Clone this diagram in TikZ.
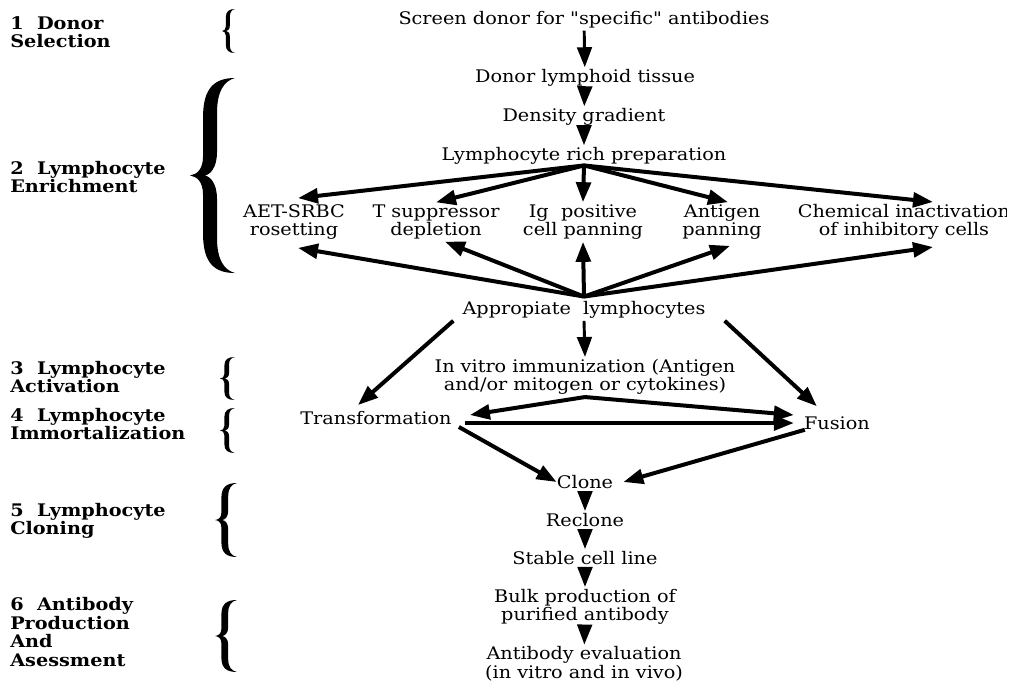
\documentclass[tikz,border=0pt]{standalone}
\usepackage{fontspec}
\setmainfont{DejaVu Serif}[FakeStretch=1.11]
\newfontfamily\plainq{DejaVu Serif}[FakeStretch=1.11]
\usetikzlibrary{arrows.meta}
\begin{document}
\begin{tikzpicture}[x=0.75pt,y=-0.75pt,
  every node/.style={inner sep=1.5pt},
  stage/.style={font=\fontsize{13}{13.9}\selectfont, align=center},
  sect/.style={font=\bfseries\fontsize{13}{13.9}\selectfont, align=left, anchor=west},
  flow/.style={line width=2.2pt, -{Triangle[length=15pt,width=11pt]}},
  fan/.style={line width=3pt, -{Triangle[length=15pt,width=11pt]}},
  % a curly brace filled in the unit box, tip at the left, top at y=0
  curly/.pic={
    \fill (1,0) .. controls (0.55,0.0) and (0.29,0.05) .. (0.29,0.2)
      -- (0.29,0.40)
      .. controls (0.29,0.47) and (0.15,0.495) .. (0,0.5)
      .. controls (0.15,0.505) and (0.29,0.53) .. (0.29,0.6)
      -- (0.29,0.8)
      .. controls (0.29,0.95) and (0.55,1.0) .. (1,1)
      .. controls (0.75,0.985) and (0.6,0.93) .. (0.6,0.82)
      -- (0.6,0.62)
      .. controls (0.6,0.54) and (0.45,0.505) .. (0.33,0.5)
      .. controls (0.45,0.495) and (0.6,0.46) .. (0.6,0.38)
      -- (0.6,0.18)
      .. controls (0.6,0.07) and (0.75,0.015) .. (1,0) -- cycle;
  }]
\useasboundingbox (0,0) rectangle (1018,683);

% section labels
\node[sect] (s1) at (8,32)  {1\ \ Donor\\Selection};
\node[sect] (s2) at (8,177) {2\ \ Lymphocyte\\Enrichment};
\node[sect] (s3) at (8,377) {3\ \ Lymphocyte\\Activation};
\node[sect] (s4) at (8,424) {4\ \ Lymphocyte\\Immortalization};
\node[sect] (s5) at (8,521) {5\ \ Lymphocyte\\Cloning};
\node[sect] (s6) at (8,632) {6\ \ Antibody\\Production\\And\\Asessment};

% braces
\pic[xscale=13, yscale=44]  at (222,9)   {curly};
\pic[xscale=45, yscale=195] at (190,78)  {curly};
\pic[xscale=15, yscale=43]  at (220,357) {curly};
\pic[xscale=15, yscale=45]  at (220,408) {curly};
\pic[xscale=22, yscale=74]  at (215,483) {curly};
\pic[xscale=22, yscale=72]  at (215,600) {curly};

% flow steps
\node[stage] (screen)  at (584,20)  {Screen donor for {\plainq"}specific{\plainq"} antibodies};
\node[stage] (donor)   at (585,78)  {Donor lymphoid tissue};
\node[stage] (density) at (584,117) {Density gradient};
\node[stage] (lrp)     at (584,156) {Lymphocyte rich preparation};
\node[stage] (aet)     at (294,222) {AET-SRBC\\rosetting};
\node[stage] (tsupp)   at (436,222) {T suppressor\\depletion};
\node[stage] (ig)      at (583,222) {Ig\ \ positive\\cell panning};
\node[stage] (antigen) at (722,222) {Antigen\\panning};
\begin{scope}
  \clip (0,0) rectangle (1006,683);
  \node[stage] (chem) at (904,222) {Chemical inactivation\\of inhibitory cells};
\end{scope}
\node[stage] (appr)    at (584,310) {Appropiate\ \ lymphocytes};
\node[stage] (invitro) at (585,377) {In vitro immunization (Antigen\\and/or mitogen or cytokines)};
\node[stage] (trans)   at (376,418) {Transformation};
\node[stage] (fusion)  at (837,423) {Fusion};
\node[stage] (clone)   at (585,482) {Clone};
\node[stage] (reclone) at (585,520) {Reclone};
\node[stage] (stable)  at (585,558) {Stable cell line};
\node[stage] (bulk)    at (585,607) {Bulk production of\\purified antibody};
\node[stage] (evalu)   at (584,664) {Antibody evaluation\\(in vitro and in vivo)};

% column arrows
\draw[flow] (screen) -- (donor);
\draw[flow] (donor) -- (density);
\draw[flow] (density) -- (lrp);

% enrichment fan
\coordinate (hubtop) at ([yshift=1pt]lrp.south);
\coordinate (hubbot) at ([yshift=2pt]appr.north);
\draw[fan] (hubtop) -- ([shift={(4,-4)}]aet.north);
\draw[fan] (hubtop) -- (tsupp.north);
\draw[fan] (hubtop) -- (ig.north);
\draw[fan] (hubtop) -- ([shift={(6,0)}]antigen.north);
\draw[fan] (hubtop) -- ([shift={(29,0)}]chem.north);
\draw[fan] (hubbot) -- ([shift={(4,6)}]aet.south);
\draw[fan] (hubbot) -- ([shift={(9,0)}]tsupp.south);
\draw[fan] (hubbot) -- (ig.south);
\draw[fan] (hubbot) -- ([shift={(8,4)}]antigen.south);
\draw[fan] (hubbot) -- ([shift={(29,5)}]chem.south);

% activation and immortalization
\draw[fan] ([shift={(-7,0)}]appr.south west) -- ([shift={(-18,-4)}]trans.north);
\draw[flow] (appr.south) -- (invitro.north);
\draw[fan] ([shift={(17,0)}]appr.south east) -- ([shift={(15,-8)}]fusion.north west);
\draw[fan] (invitro.south) -- ([shift={(16,-3)}]trans.east);
\draw[fan] (invitro.south) -- ([shift={(-8,-8)}]fusion.west);
\draw[fan] ([shift={(11,5)}]trans.east) -- ([shift={(-8,0)}]fusion.west);

% cloning
\draw[fan] ([shift={(5,0)}]trans.south east) -- ([shift={(2,0)}]clone.west);
\draw[fan] ([shift={(3,-2)}]fusion.south west) -- ([shift={(8,0)}]clone.east);
\draw[flow] (clone) -- (reclone);
\draw[flow] (reclone) -- (stable);
\draw[flow] (stable) -- (bulk);
\draw[flow] (bulk) -- (evalu);
\end{tikzpicture}
\end{document}
